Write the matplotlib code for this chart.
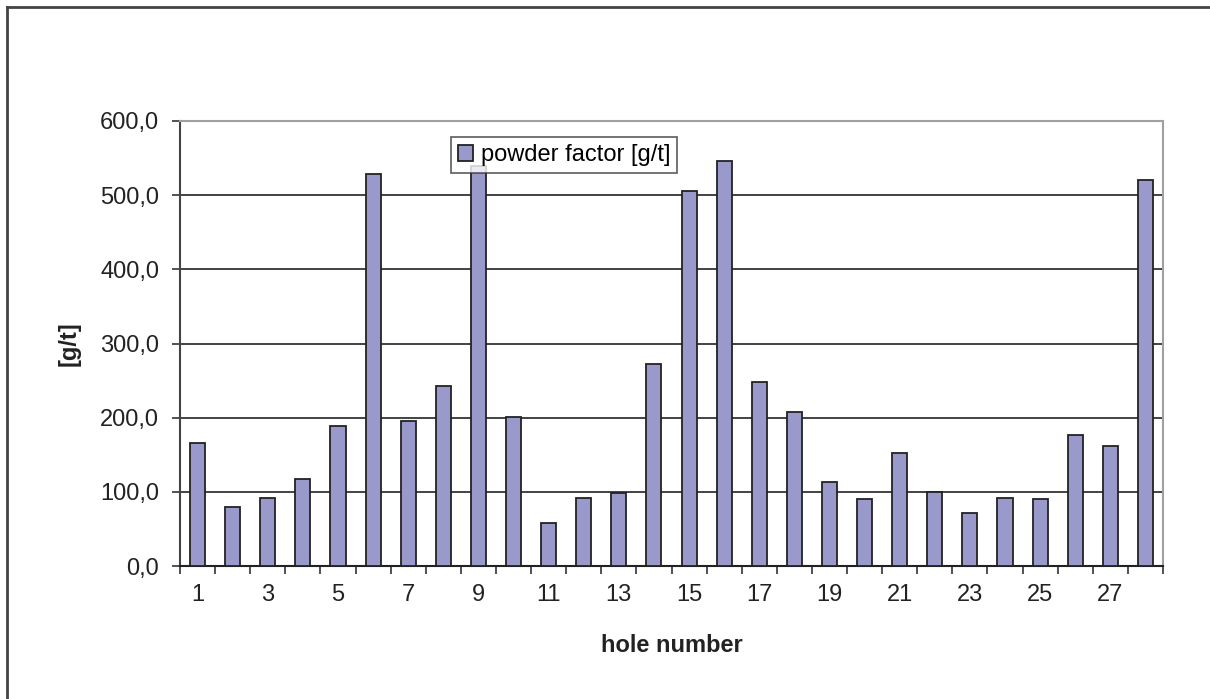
import numpy as np
import matplotlib.pyplot as plt
from matplotlib.lines import Line2D
from matplotlib.ticker import FuncFormatter

plt.rcParams['font.family'] = ['Liberation Sans', 'DejaVu Sans']

# powder factor per blast hole
holes = list(range(1, 29))
powder_factor = [166, 80, 92, 117, 189, 528, 195, 243, 540, 201,
                 58, 92, 98, 273, 505, 546, 248, 208, 113, 90,
                 152, 100, 71, 92, 90, 176, 162, 520]
y_ticks = [0, 100, 200, 300, 400, 500, 600]

fig = plt.figure(figsize=(12.10, 6.99), dpi=100)
ax = fig.add_axes([180 / 1210, 1 - 566 / 699, 983 / 1210, 445 / 699])

x = np.arange(len(holes))
ax.bar(x, powder_factor, width=0.43, color='#9999cc', edgecolor='#222222',
       linewidth=1.3, label='powder factor [g/t]', zorder=3)

ax.set_xlim(-0.5, len(holes) - 0.5)
ax.set_ylim(0, 600)
ax.set_yticks(y_ticks)
ax.yaxis.set_major_formatter(FuncFormatter(lambda v, p: f'{v:.1f}'.replace('.', ',')))
ax.yaxis.grid(True, color='#222222', linewidth=1.2, zorder=0)

# category boundaries carry the ticks, every second hole gets a label
ax.set_xticks(np.arange(len(holes) + 1) - 0.5)
ax.set_xticklabels([])
ax.set_xticks(x[::2], minor=True)
ax.set_xticklabels([str(h) for h in holes[::2]], minor=True)
ax.tick_params(axis='x', which='minor', length=0, pad=13, labelsize=17, colors='#222222')
ax.tick_params(axis='x', which='major', length=6, width=1.2, color='#333333')
ax.tick_params(axis='y', length=6, width=1.2, color='#333333', labelsize=17,
               labelcolor='#222222', pad=9)

for side in ['top', 'right']:
    ax.spines[side].set_color('#a0a0a0')
    ax.spines[side].set_linewidth(1.5)
ax.spines['left'].set_color('#444444')
ax.spines['left'].set_linewidth(1.5)
ax.spines['bottom'].set_color('#222222')
ax.spines['bottom'].set_linewidth(1.5)

ax.set_xlabel('hole number', fontsize=17, fontweight='bold', color='#222222', labelpad=20)
ax.set_ylabel('[g/t]', fontsize=17, fontweight='bold', color='#222222', labelpad=14)

leg = ax.legend(loc='upper left', bbox_to_anchor=((451 - 180) / 983, (566 - 137) / 445),
                fontsize=17, frameon=True, fancybox=False, borderpad=0.3,
                handlelength=0.65, handleheight=0.65, handletextpad=0.3,
                borderaxespad=0)
leg.get_frame().set_edgecolor('#333333')
leg.get_frame().set_linewidth(1.2)
leg.set_zorder(5)

# outer chart frame (top and left edges)
fig.add_artist(Line2D([7 / 1210, 1], [1 - 7 / 699, 1 - 7 / 699], color='#444444', linewidth=2))
fig.add_artist(Line2D([7 / 1210, 7 / 1210], [0, 1 - 7 / 699], color='#444444', linewidth=2))

fig.savefig('out.png', dpi=100)
